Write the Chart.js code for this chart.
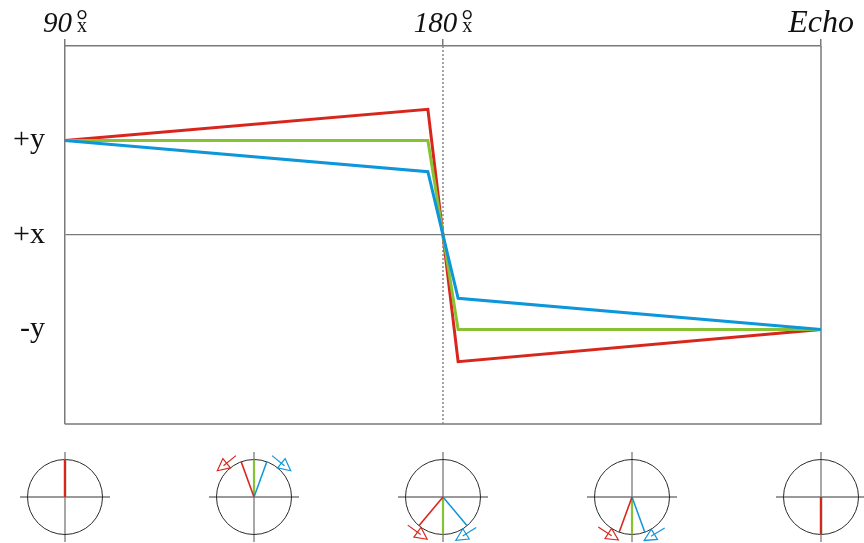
<!DOCTYPE html>
<html>
<head>
<meta charset="utf-8">
<script src="https://cdn.jsdelivr.net/npm/chart.js@4.4.1/dist/chart.umd.min.js"></script>
<style>
  html, body { margin:0; padding:0; background:#fff; }
  #wrap { width:864px; height:543px; }
</style>
</head>
<body>
<div id="wrap"><canvas id="echoChart" width="864" height="543"></canvas></div>
<script>
// Time axis (0 = 90x pulse, 1 = 180x pulse, 2 = echo)
const timePoints = [0, 0.96, 1.04, 2];
const fastSpins = [1, 1.33, -1.34, -1];
const onResonance = [1, 1, -1, -1];
const slowSpins = [1, 0.67, -0.67, -1];

const pulseTicks = [0, 1, 2];
const pulseMain = ["90", "180", "Echo"];
const pulseSup = ["°", "°", ""];
const pulseSub = ["x", "x", ""];

const yTickValues = [1, 0, -1];
const yTickLabels = ["+y", "+x", "-y"];

// Vector snapshots below the chart (degrees clockwise from +y)
const snapshotTimes = [0, 0.5, 1, 1.5, 2];
const redPhase = [0, -20, 220, 200, 180];
const greenPhase = [0, 0, 180, 180, 180];
const bluePhase = [0, 20, 140, 160, 180];
const redArrowAt = [null, -39, 216, 213, null];
const blueArrowAt = [null, 39, 148, 149, null];

const RED = "#d8261d", GREEN = "#86c232", BLUE = "#0d96da", AXIS = "#7a7a7a";

function drawPulseLabel(ctx, cx, main, sup, sub){
    let bigFont = main == "Echo" ? "italic 32px 'Liberation Serif'" : "italic 29px 'Liberation Serif'";
    ctx.font = bigFont;
    let wMain = ctx.measureText(main).width;
    ctx.font = "20px 'Liberation Serif'";
    let wSub = sub ? ctx.measureText(sub).width + 5 : 0;
    let x0 = cx - (wMain + wSub) / 2;
    ctx.fillStyle = "#111";
    ctx.textBaseline = "alphabetic";
    ctx.textAlign = "left";
    ctx.font = bigFont;
    ctx.fillText(main, x0, 32);
    if(sub){
        ctx.font = "20px 'Liberation Serif'";
        ctx.fillText(sub, x0 + wMain + 5, 32);
        ctx.font = "30px 'Liberation Serif'";
        ctx.fillText(sup, x0 + wMain + 4, 30);
    }
}

function phaseVec(deg){
    let r = deg * Math.PI / 180;
    return [Math.sin(r), -Math.cos(r)];
}

function drawArrow(ctx, cx, cy, R, at, dir, color){
    let p = phaseVec(at);
    let rr = at * Math.PI / 180;
    let t = [Math.cos(rr) * dir, Math.sin(rr) * dir];
    let mx = cx + p[0] * (R + 6), my = cy + p[1] * (R + 6);
    let sx = mx - t[0] * 12, sy = my - t[1] * 12;
    let ex = mx + t[0] * 12, ey = my + t[1] * 12;
    let n = [-t[1], t[0]];
    let bx = ex - t[0] * 12, by = ey - t[1] * 12;
    ctx.strokeStyle = color;
    ctx.lineWidth = 1.2;
    ctx.beginPath();
    ctx.moveTo(sx, sy); ctx.lineTo(bx + t[0] * 4, by + t[1] * 4);
    ctx.stroke();
    ctx.beginPath();
    ctx.moveTo(ex, ey);
    ctx.lineTo(bx + n[0] * 6, by + n[1] * 6);
    ctx.lineTo(bx - n[0] * 6, by - n[1] * 6);
    ctx.closePath();
    ctx.stroke();
}

function drawSnapshot(ctx, cx, cy, i){
    let R = 37.5;
    ctx.strokeStyle = AXIS;
    ctx.lineWidth = 1.3;
    ctx.beginPath();
    ctx.moveTo(cx - 45, cy); ctx.lineTo(cx + 45, cy);
    ctx.moveTo(cx, cy - 45); ctx.lineTo(cx, cy + 45);
    ctx.stroke();
    ctx.strokeStyle = "#2a2a2a";
    ctx.lineWidth = 1;
    ctx.beginPath();
    ctx.arc(cx, cy, R, 0, Math.PI * 2);
    ctx.stroke();

    let vecs = [[greenPhase[i], GREEN, 2.2], [bluePhase[i], BLUE, 1.5], [redPhase[i], RED, 1.6]];
    vecs.forEach(v=>{
        let p = phaseVec(v[0]);
        ctx.strokeStyle = v[1];
        ctx.lineWidth = i == 0 || i == 4 ? 2.2 : v[2];
        ctx.beginPath();
        ctx.moveTo(cx, cy);
        ctx.lineTo(cx + p[0] * R, cy + p[1] * R);
        ctx.stroke();
    });
    if(redArrowAt[i] != null) drawArrow(ctx, cx, cy, R, redArrowAt[i], -1, RED);
    if(blueArrowAt[i] != null) drawArrow(ctx, cx, cy, R, blueArrowAt[i], 1, BLUE);
}

const decor = {
    id: "decor",
    beforeDatasetsDraw(chart){
        let ctx = chart.ctx, a = chart.chartArea, xs = chart.scales.x;
        ctx.save();
        // right and bottom frame
        ctx.strokeStyle = AXIS;
        ctx.lineWidth = 1.5;
        ctx.beginPath();
        ctx.moveTo(a.right, a.top); ctx.lineTo(a.right, a.bottom); ctx.lineTo(a.left, a.bottom);
        ctx.stroke();
        // dotted line at the 180 pulse
        let x1 = xs.getPixelForValue(1);
        ctx.setLineDash([2, 2]);
        ctx.strokeStyle = "#888";
        ctx.beginPath();
        ctx.moveTo(x1, a.top); ctx.lineTo(x1, a.bottom);
        ctx.stroke();
        ctx.restore();
    },
    afterDraw(chart){
        let ctx = chart.ctx, a = chart.chartArea, xs = chart.scales.x;
        ctx.save();
        pulseTicks.forEach((v, i)=>{
            drawPulseLabel(ctx, xs.getPixelForValue(v), pulseMain[i], pulseSup[i], pulseSub[i]);
        });
        snapshotTimes.forEach((t, i)=>{
            drawSnapshot(ctx, xs.getPixelForValue(t), a.bottom + 73, i);
        });
        ctx.restore();
    }
};

function series(vals, color){
    return {
        data: timePoints.map((t, i)=>({x:t, y:vals[i]})),
        borderColor: color,
        borderWidth: 3,
        pointRadius: 0,
        tension: 0,
        clip: false
    };
}

new Chart(document.getElementById("echoChart"), {
    type: 'line',
    data: {
        datasets: [
            series(slowSpins, BLUE),
            series(onResonance, GREEN),
            series(fastSpins, RED)
        ]
    },
    options: {
        responsive: false,
        animation: false,
        layout: { padding: { right: 43, bottom: 119 } },
        plugins: { legend: { display:false }, tooltip: { enabled:false } },
        scales: {
            x: {
                type: 'linear',
                position: 'top',
                min: 0, max: 2,
                afterBuildTicks: s => { s.ticks = pulseTicks.map(v=>({value:v})); },
                afterFit: s => { s.height = 46; },
                ticks: { display:false },
                grid: { drawOnChartArea:false, drawTicks:true, tickLength:7, color:AXIS, lineWidth:1.5 },
                border: { color:AXIS, width:1.5 }
            },
            y: {
                min: -2, max: 2,
                afterBuildTicks: s => { s.ticks = yTickValues.map(v=>({value:v})); },
                afterFit: s => { s.width = 65; },
                ticks: {
                    padding: 20,
                    color: "#111",
                    font: { family:"'Liberation Serif'", size:30 },
                    callback: v => yTickLabels[yTickValues.indexOf(v)]
                },
                grid: {
                    drawTicks: false,
                    color: c => c.tick && c.tick.value == 0 ? AXIS : 'rgba(0,0,0,0)',
                    lineWidth: 1.3
                },
                border: { color:AXIS, width:1.5 }
            }
        }
    },
    plugins: [decor]
});
</script>
</body>
</html>
